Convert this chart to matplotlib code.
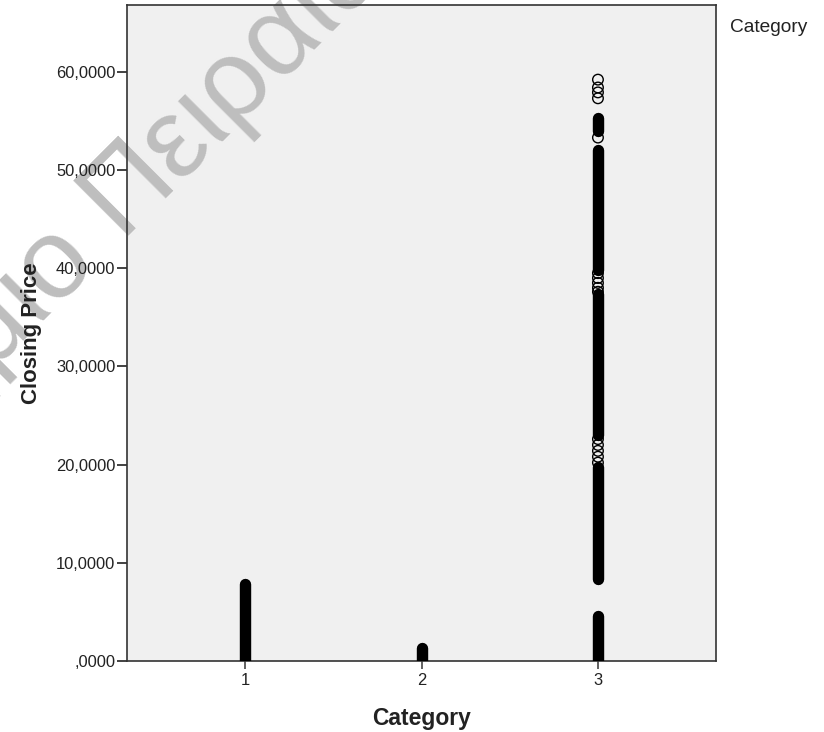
import matplotlib
matplotlib.use('Agg')
import matplotlib.pyplot as plt

plt.rcParams['font.family'] = ['Liberation Sans', 'DejaVu Sans']

# categories on the x axis
categories = [1, 2, 3]

# dense runs of points (category, lowest price, highest price) - solid black strips
dense_cat = [1, 2, 3, 3, 3, 3, 3]
dense_lo = [0.0, 0.0, 0.0, 8.35, 23.0, 39.8, 54.0]
dense_hi = [7.85, 1.3, 4.6, 19.8, 37.4, 52.0, 55.3]

# single points that stand apart (all category 3)
sparse_price = [59.2, 58.4, 57.9, 57.3, 53.3,
                39.5, 39.0, 38.5, 38.0, 37.6,
                22.6, 22.0, 21.4, 20.8, 20.2]
sparse_cat = [3] * len(sparse_price)

yticks = [0, 10, 20, 30, 40, 50, 60]
ytick_labels = [',0000', '10,0000', '20,0000', '30,0000', '40,0000', '50,0000', '60,0000']

fig = plt.figure(figsize=(8.24, 7.32), dpi=100)
ax = fig.add_axes([127/824, 1 - 661/732, (716-127)/824, (661-5)/732])
ax.set_facecolor('#f0f0f0')

# dense strips drawn as thick round-capped lines
for c, lo, hi in zip(dense_cat, dense_lo, dense_hi):
    ax.plot([c, c], [lo, hi], color='black', lw=8.2, solid_capstyle='round', zorder=3)

ax.scatter(sparse_cat, sparse_price, s=58, facecolors='none', edgecolors='black',
           linewidths=1.0, zorder=3)

ax.set_xlim(0.331, 3.669)
ax.set_ylim(0, 66.8)
ax.set_xticks(categories)
ax.set_xticklabels([str(c) for c in categories])
ax.set_yticks(yticks)
ax.set_yticklabels(ytick_labels)

for s in ax.spines.values():
    s.set_color('#333333')
    s.set_linewidth(1.2)
ax.tick_params(axis='y', direction='out', length=7, width=1.3, color='#333333',
               labelsize=11.9, labelcolor='#222222', pad=1.5)
ax.tick_params(axis='x', direction='out', length=6, width=1.3, color='#555555',
               labelsize=11.9, labelcolor='#222222', pad=2.5)

ax.set_ylabel('Closing Price', fontsize=16, fontweight='bold', color='#222222', labelpad=10)
ax.set_xlabel('Category', fontsize=16.5, fontweight='bold', color='#222222', labelpad=14)

fig.text(730/824, 1 - 27/732, 'Category', fontsize=13.8, color='#222222', va='center', ha='left')

# watermark
ax.text(119/824, 1 - 236/732, 'Πειραιώς', transform=fig.transFigure, rotation=45,
        rotation_mode='anchor', ha='left', va='baseline', fontsize=82, color='#bebebe',
        zorder=1, clip_on=False)
ax.text(96.6/824, 1 - 258.4/732, 'Πανεπιστήμιο', transform=fig.transFigure, rotation=45,
        rotation_mode='anchor', ha='right', va='baseline', fontsize=82, color='#bebebe',
        zorder=1, clip_on=False)

fig.savefig('out.png', dpi=100)
